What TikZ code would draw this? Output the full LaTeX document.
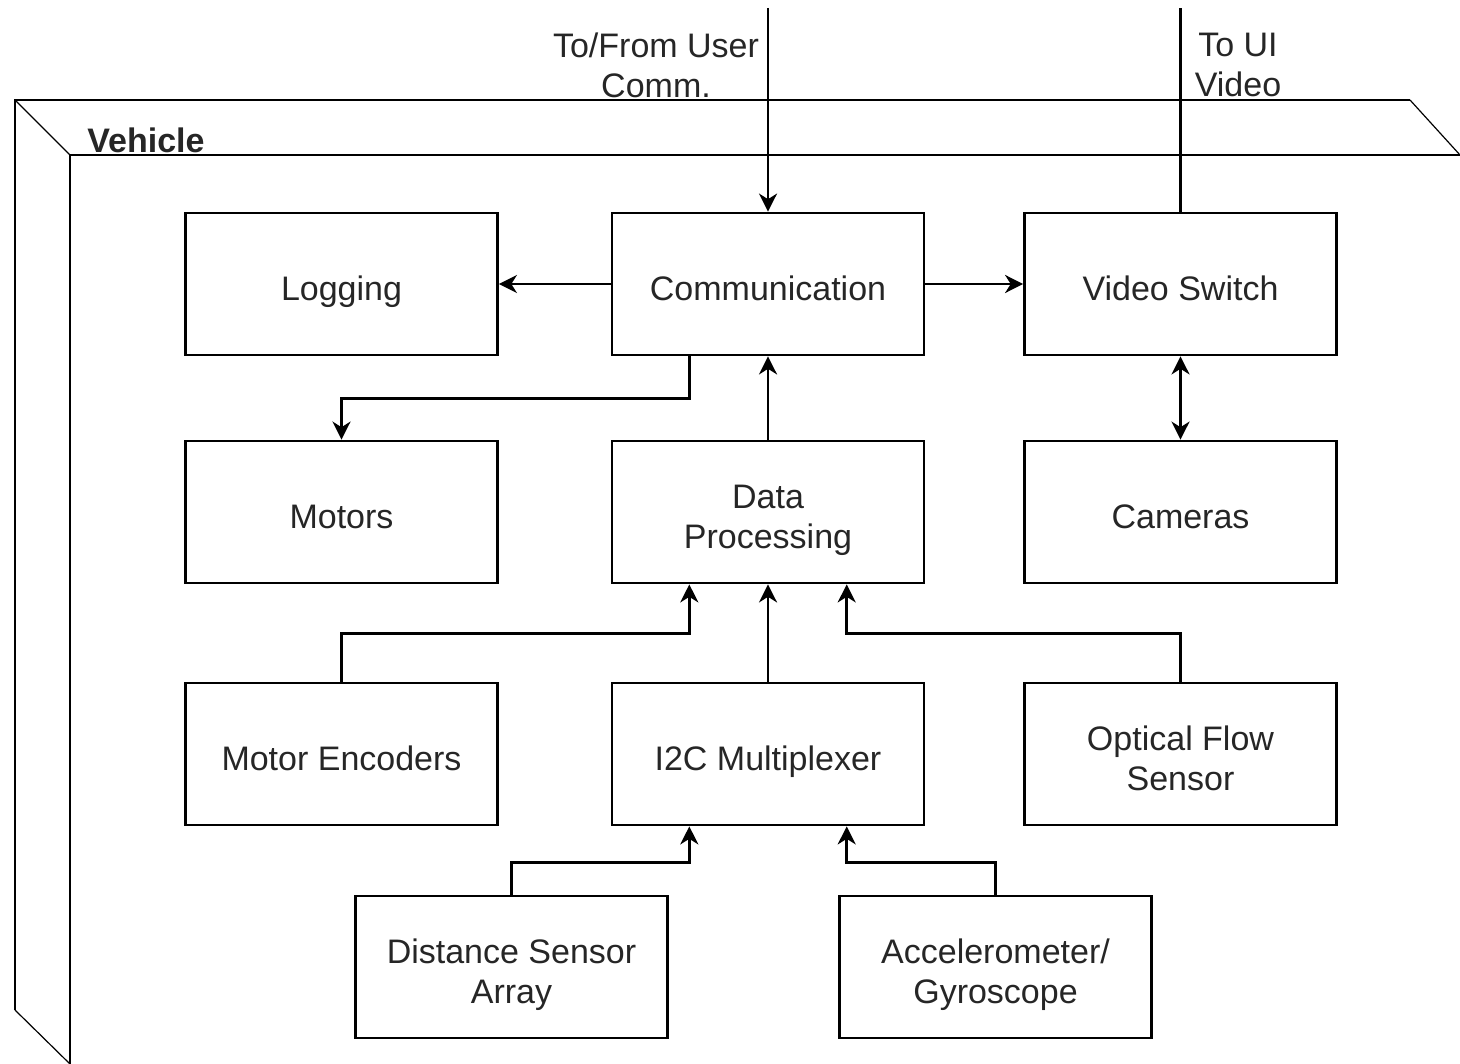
\documentclass[tikz,border=0pt]{standalone}
\usepackage{fontspec}
\setmainfont{Liberation Sans}
\usetikzlibrary{arrows.meta,calc}
\newcommand\blkstrut{\rule[-4pt]{0pt}{24.2pt}}
\begin{document}
\begin{tikzpicture}[x=0.5pt,y=-0.5pt,
  blk/.style={draw,line width=1.4pt,minimum width=156pt,minimum height=71pt,inner sep=0pt,align=center,text=black!85,font=\fontsize{17}{20}\selectfont,
    execute at begin node=\blkstrut,execute at end node=\blkstrut},
  blkk/.style={blk,execute at begin node=\rule{0pt}{40.2pt}},
  lnk/.style={line width=1.4pt},
  tip/.tip={Stealth[length=9pt,width=9pt,inset=2.8pt]},
  arr/.style={lnk,-tip},
  lbl/.style={align=center,text=black!85,font=\fontsize{17}{20}\selectfont}]
\useasboundingbox (0,0) rectangle (1460,1064);
% vehicle frame
\draw[lnk] (15,1010)--(15,100)--(1410,100); \draw[lnk] (70,1064)--(70,155)--(1460,155);
\draw[line width=0.6pt] (15,100)--(70,155); \draw[line width=0.6pt] (1410,100)--(1460,155); \draw[line width=0.6pt] (15,1010)--(70,1064);
\node (veh) at (146,140)[lbl,font=\fontsize{17}{20}\selectfont\bfseries]{Vehicle};
% blocks
\node (log) at (341.5,284)[blk]{Logging};
\node (comm) at (768,284)[blk]{Communication};
\node (vsw) at (1180.5,284)[blk]{Video Switch};
\node (mot) at (341.5,512)[blk]{Motors};
\node (dp) at (768,512)[blkk]{Data\\Processing};
\node (cam) at (1180.5,512)[blk]{Cameras};
\node (enc) at (341.5,754)[blk]{Motor Encoders};
\node (mux) at (768,754)[blk]{I2C Multiplexer};
\node (opt) at (1180.5,754)[blkk]{Optical Flow\\Sensor};
\node (dist) at (511.5,967)[blkk]{Distance Sensor\\Array};
\node (acc) at (995.5,967)[blkk]{Accelerometer/\\Gyroscope};
% outside links
\coordinate (usr) at (768,8); \coordinate (ui) at (1180.5,8);
\node (usrl) at (656,65)[lbl]{To/From User\\Comm.};
\node (uil) at (1238,65)[lbl]{To UI\\Video};
\draw[arr] (usr)--(comm.north);
\draw[lnk] (vsw.north)--(ui);
% links
\coordinate (c1) at ($(comm.south west)!0.25!(comm.south east)$);
\coordinate (d1) at ($(dp.south west)!0.25!(dp.south east)$);
\coordinate (d3) at ($(dp.south west)!0.75!(dp.south east)$);
\coordinate (m1) at ($(mux.south west)!0.25!(mux.south east)$);
\coordinate (m3) at ($(mux.south west)!0.75!(mux.south east)$);
\draw[arr] (comm.west)--(log.east);
\draw[arr] (comm.east)--(vsw.west);
\draw[arr] (c1)--++(0,42)-|(mot.north);
\draw[arr] (dp.north)--(comm.south);
\draw[lnk,tip-tip] (vsw.south)--(cam.north);
\draw[arr] (enc.north)--++(0,-48)-|(d1);
\draw[arr] (mux.north)--(dp.south);
\draw[arr] (opt.north)--++(0,-48)-|(d3);
\draw[arr] (dist.north)--++(0,-32)-|(m1);
\draw[arr] (acc.north)--++(0,-32)-|(m3);
\end{tikzpicture}
\end{document}
